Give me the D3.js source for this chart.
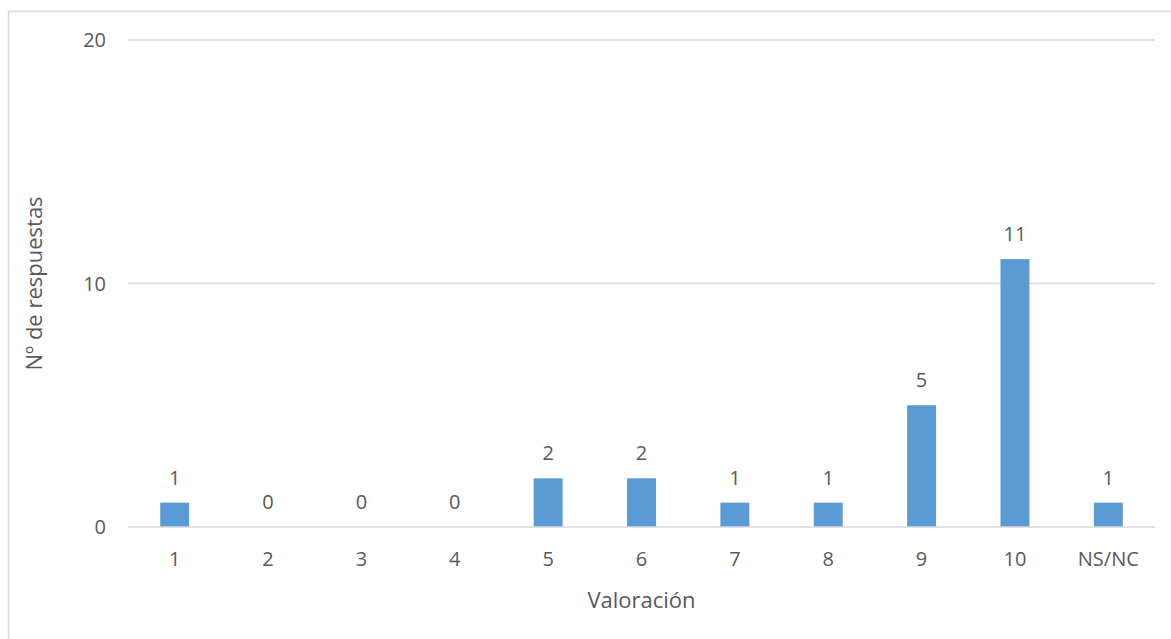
<!DOCTYPE html>
<html><head><meta charset="utf-8">
<script src="https://cdn.jsdelivr.net/npm/d3@7"></script>
<style>
body{margin:0;background:#fff;}
svg{display:block;}
text{font-family:"Open Sans","Noto Sans",sans-serif;fill:#595959;}
</style></head>
<body>
<svg id="chart" width="1171" height="639"></svg>
<script>
const categories = ["1","2","3","4","5","6","7","8","9","10","NS/NC"];
const values = [1,0,0,0,2,2,1,1,5,11,1];
const yTicks = [0,10,20];
const xTitle = "Valoración";
const yTitle = "Nº de respuestas";

(function(){
const svg = d3.select("#chart");
const W = 1171, H = 639;
const pL = 128, pR = 1155, pT = 40, pB = 527;

// outer border (left and top visible)
svg.append("path").attr("d", `M8.5,${H} V11.5 H${W}`).attr("fill","none").attr("stroke","#d9d9d9").attr("stroke-width",1.5);

const x = d3.scaleBand().domain(categories).range([pL,pR]).paddingInner(0.69).paddingOuter(0.345);
const y = d3.scaleLinear().domain([0,20]).range([pB,pT]);

// gridlines
svg.append("g").selectAll("line").data(yTicks.filter(d=>d>0)).join("line")
  .attr("x1",pL).attr("x2",pR).attr("y1",d=>y(d)).attr("y2",d=>y(d))
  .attr("stroke","#d9d9d9").attr("stroke-width",1.5);

// bars
svg.append("g").selectAll("rect").data(values).join("rect")
  .attr("x",(d,i)=>x(categories[i])).attr("width",x.bandwidth())
  .attr("y",d=>y(d)).attr("height",d=>y(0)-y(d)).attr("fill","#5b9bd5");

// x axis baseline
svg.append("line").attr("x1",pL).attr("x2",pR).attr("y1",y(0)).attr("y2",y(0))
  .attr("stroke","#d9d9d9").attr("stroke-width",1.5);

// y tick labels
svg.append("g").selectAll("text").data(yTicks).join("text")
  .attr("x",106).attr("y",d=>y(d)).attr("dy","0.35em").attr("text-anchor","end")
  .attr("font-size",20).text(d=>d);

// x tick labels
svg.append("g").selectAll("text").data(categories).join("text")
  .attr("x",d=>x(d)+x.bandwidth()/2).attr("y",559).attr("dy","0.35em").attr("text-anchor","middle")
  .attr("font-size",20).text(d=>d);

// data labels
svg.append("g").selectAll("text").data(values).join("text")
  .attr("x",(d,i)=>x(categories[i])+x.bandwidth()/2).attr("y",d=>y(d)-25).attr("dy","0.35em")
  .attr("text-anchor","middle").attr("font-size",20).text(d=>d);

// axis titles
svg.append("text").attr("x",(pL+pR)/2).attr("y",600).attr("dy","0.35em").attr("text-anchor","middle")
  .attr("font-size",22).text(xTitle);
svg.append("text").attr("transform",`translate(34,${(pT+pB)/2}) rotate(-90)`).attr("dy","0.35em")
  .attr("text-anchor","middle").attr("font-size",22).text(yTitle);
})();
</script>
</body></html>
